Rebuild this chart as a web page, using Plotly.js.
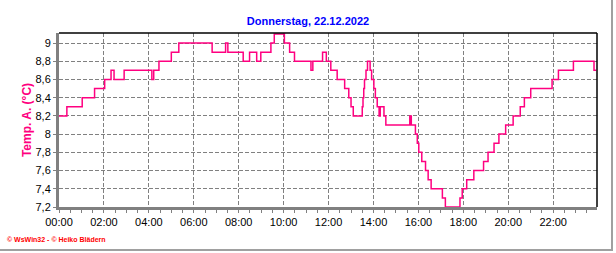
<!DOCTYPE html>
<html>
<head>
<meta charset="utf-8">
<script src="https://cdn.plot.ly/plotly-3.0.1.min.js"></script>
<style>
  html, body { margin: 0; padding: 0; background: #fff; }
  #wrap { position: relative; width: 616px; height: 253px; overflow: hidden; }
  #chart { position: absolute; left: 0; top: 0; width: 616px; height: 253px; }
  #frameR { position: absolute; left: 611px; top: 0; width: 2px; height: 251px; background: #a0a0a0; }
  #frameB { position: absolute; left: 0; top: 249px; width: 613px; height: 2px; background: #a0a0a0; }
</style>
</head>
<body>
<div id="wrap">
  <div id="chart"></div>
  <div id="frameR"></div>
  <div id="frameB"></div>
</div>
<script>
const day = '2022-12-22';
const times = ['00:00','00:21','01:02','01:35','02:02','02:19','02:27','02:54','04:08','04:13',
  '04:27','05:00','05:20','06:49','07:25','07:31','08:12','08:29','08:48','08:59',
  '09:26','09:35','10:02','10:16','10:29','11:13','11:18','11:44','11:54','12:06',
  '12:23','12:43','12:54','13:00','13:06','13:30','13:32','13:34','13:36','13:40',
  '13:44','13:51','13:55','14:01','14:05','14:10','14:15','14:18','14:28','14:33',
  '15:37','15:41','15:52','15:57','16:01','16:09','16:19','16:26','16:34','17:04',
  '17:12','17:51','17:57','18:09','18:28','18:54','19:06','19:22','19:35','19:53',
  '20:13','20:32','20:43','21:00','21:57','22:14','22:54','23:49','23:55'];
const temps = [8.2,8.3,8.4,8.5,8.6,8.7,8.6,8.7,8.6,8.7,
  8.8,8.9,9.0,8.9,9.0,8.9,8.8,8.9,8.8,8.9,
  9.0,9.1,9.0,8.9,8.8,8.7,8.8,8.9,8.8,8.7,
  8.6,8.5,8.4,8.3,8.2,8.3,8.4,8.5,8.6,8.7,
  8.8,8.7,8.6,8.5,8.4,8.3,8.2,8.3,8.2,8.1,
  8.2,8.1,8.0,7.9,7.8,7.7,7.6,7.5,7.4,7.3,
  7.2,7.3,7.4,7.5,7.6,7.7,7.8,7.9,8.0,8.1,
  8.2,8.3,8.4,8.5,8.6,8.7,8.8,8.7,8.7];
const xTickLabels = ['00:00','02:00','04:00','06:00','08:00','10:00','12:00','14:00','16:00','18:00','20:00','22:00'];
const yTickValues = [7.2,7.4,7.6,7.8,8.0,8.2,8.4,8.6,8.8,9.0];

const titleText = 'Donnerstag, 22.12.2022';
const yTitleText = 'Temp. A. (°C)';
const creditText = '© WsWin32 - © Heiko Blädern';

const xs = times.map(t => day + ' ' + t);

const trace = {
  x: xs, y: temps, type: 'scatter', mode: 'lines',
  line: { color: '#FF0080', width: 1.5, shape: 'hv' },
  hoverinfo: 'skip'
};

const font = 'Liberation Sans, Arial, sans-serif';
const layout = {
  width: 616, height: 253,
  margin: { l: 59, r: 19, t: 33, b: 46, pad: 0 },
  paper_bgcolor: '#ffffff', plot_bgcolor: '#ffffff',
  separators: ',.',
  showlegend: false,
  font: { family: font, size: 11, color: '#000' },
  title: { text: '<b>' + titleText + '</b>', font: { family: font, size: 11, color: '#0000FF' },
           x: 0.5, xref: 'container', xanchor: 'center', y: 1, yref: 'container', yanchor: 'top', pad: { t: 17 } },
  xaxis: {
    type: 'date',
    range: [day + ' 00:00', day + ' 23:57'],
    tickvals: xTickLabels.map(t => day + ' ' + t),
    ticktext: xTickLabels,
    showgrid: true, gridcolor: '#808080', gridwidth: 1, griddash: '4px,2px',
    showline: true, linecolor: '#808080', linewidth: 3,
    ticks: 'outside', ticklen: 3, tickcolor: '#808080', tickwidth: 1,
    minor: { dtick: 30 * 60 * 1000, tick0: day + ' 00:00', ticks: 'outside', ticklen: 3, tickcolor: '#808080', showgrid: false },
    zeroline: false, fixedrange: true,
    tickfont: { family: font, size: 11, color: '#000' }
  },
  yaxis: {
    range: [7.2, 9.11],
    tickvals: yTickValues,
    showgrid: true, gridcolor: '#808080', gridwidth: 1, griddash: '4px,2px',
    showline: true, linecolor: '#808080', linewidth: 3,
    ticks: 'outside', ticklen: 3, tickcolor: '#808080', tickwidth: 1,
    zeroline: false, fixedrange: true,
    tickfont: { family: font, size: 11, color: '#000' },
    title: { text: '<b>' + yTitleText + '</b>', font: { family: font, size: 12, color: '#FF0080' }, standoff: 2 }
  },
  shapes: [
    { type: 'line', xref: 'paper', yref: 'paper', x0: 0, x1: 1, y0: 1, y1: 1, line: { color: '#000', width: 1.5 } },
    { type: 'line', xref: 'paper', yref: 'paper', x0: 1, x1: 1, y0: 0, y1: 1, line: { color: '#000', width: 1.5 } }
  ],
  annotations: [
    { text: '<b>' + creditText + '</b>', xref: 'paper', yref: 'paper', x: -0.101, y: -0.184,
      xanchor: 'left', yanchor: 'middle', showarrow: false,
      font: { family: font, size: 7, color: '#FF0000' } }
  ]
};

Plotly.newPlot('chart', [trace], layout, { staticPlot: true, displayModeBar: false });
</script>
</body>
</html>
